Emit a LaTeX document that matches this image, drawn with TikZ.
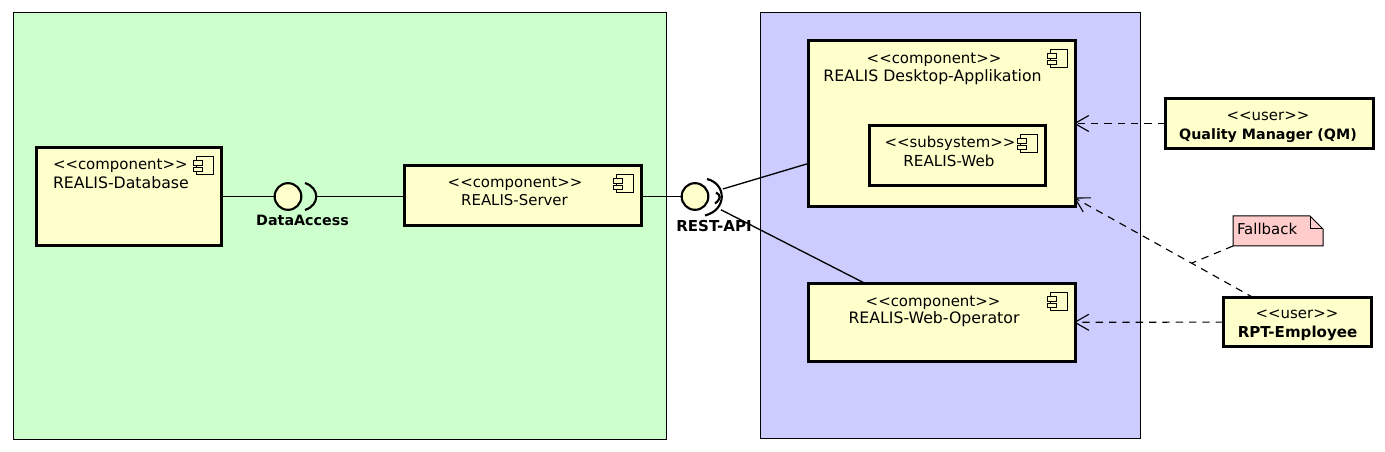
\documentclass[tikz,border=0pt]{standalone}
\usepackage{fontspec}
\setmainfont{DejaVu Sans}
\usetikzlibrary{arrows.meta}
\definecolor{pgreen}{HTML}{CCFFCC}
\definecolor{pblue}{HTML}{CCCCFF}
\definecolor{pyellow}{HTML}{FFFFCC}
\definecolor{pnote}{HTML}{FFCCCC}
\tikzset{
  x=0.75pt,y=-0.75pt,
  every node/.style={inner sep=0pt,outer sep=0pt},
  pkg/.style={draw=black,line width=0.75pt,anchor=north west},
  comp/.style={draw=black,fill=pyellow,line width=2.25pt,anchor=north west},
  txt/.style={font=\fontsize{11.2pt}{13pt}\selectfont,text=black},
  txtwide/.style={font=\fontsize{11.8pt}{13pt}\selectfont,text=black},
  txtmid/.style={font=\fontsize{11.4pt}{13pt}\selectfont,text=black},
  btxt/.style={font=\fontsize{11.3pt}{13pt}\selectfont\bfseries,text=black},
  btxtnarrow/.style={font=\fontsize{10.7pt}{13pt}\selectfont\bfseries,text=black},
  ball/.style={circle,draw=black,fill=pyellow,line width=1.6pt,minimum size=20pt},
  wire/.style={draw=black,line width=1pt},
  sockarc/.style={draw=black,line width=1.6pt},
  dep/.style={draw=black,line width=0.85pt,dash pattern=on 5.5pt off 4.5pt,shorten >=-1pt,-{Straight Barb[length=10.5pt,width=12pt,line width=0.85pt]}},
  notewire/.style={draw=black,line width=0.85pt,dash pattern=on 5.5pt off 4.5pt},
  halo/.style={circle,minimum size=42pt},
  icon/.pic={
    \draw[black,line width=0.7pt,fill=pyellow] (-25,8) rectangle (-8,26);
    \draw[black,line width=0.7pt,fill=pyellow] (-27.5,12.5) rectangle (-18.5,17);
    \draw[black,line width=0.7pt,fill=pyellow] (-27.5,19) rectangle (-18.5,23.5);
  }
}
\begin{document}
\begin{tikzpicture}
\useasboundingbox (0,0) rectangle (1385,452);
\node[pkg,fill=pgreen,minimum width=489.75pt,minimum height=319.5pt] (green) at (13,13) {};
\node[pkg,fill=pblue,minimum width=285pt,minimum height=318.75pt] (blue) at (760,13) {};
% interfaces (invisible halo gives the connector start round the socket)
\node[ball] (c1) at (288,196.5) {};
\node[ball] (c2) at (695,196.5) {};
\node[halo] (sock) at (696,197) {};
% components
\node[comp,minimum width=138.75pt,minimum height=73.5pt] (db) at (36,148) {};
\node[comp,minimum width=177.75pt,minimum height=45pt] (server) at (404,166) {};
\node[comp,minimum width=200.25pt,minimum height=124.5pt] (desktop) at (808,41) {};
\node[comp,minimum width=132pt,minimum height=45pt] (web) at (869,126) {};
\node[comp,minimum width=200.25pt,minimum height=57.75pt] (webop) at (808,284) {};
\node[comp,minimum width=156pt,minimum height=37.5pt] (qm) at (1165,98.5) {};
\node[comp,minimum width=111pt,minimum height=36pt] (rpt) at (1223,298) {};
\pic at (db.north east) {icon};
\pic at (server.north east) {icon};
\pic at (desktop.north east) {icon};
\pic at (web.north east) {icon};
\pic at (webop.north east) {icon};
% note
\coordinate (nsw) at (1233,246);
\coordinate (njoin) at (1192,263);
\draw[black,fill=pnote,line width=0.75pt] (1233,216) -- (1310,216) -- (1323,229) -- (1323,246) -- (1233,246) -- cycle;
\draw[black,line width=0.75pt] (1310,216) -- (1310,229) -- (1323,229);
% connectors
\draw[wire] (db.east |- c1.west) -- (c1.west);
\draw[sockarc] (305,183) .. controls (320,188) and (320,205) .. (305,210);
\coordinate (s1) at (316,196.5);
\draw[wire] (s1) -- (server.west |- s1);
\draw[wire] (server.east |- c2.west) -- (c2.west);
\draw[sockarc] (707,179) .. controls (727,184) and (727,210) .. (705,215.5);
\draw[sockarc] (716,192.5) .. controls (721,195) and (721,199) .. (715,203.5);
\draw[wire] (sock) -- (desktop);
\draw[wire] (sock) -- (webop);
\draw[dep] (qm.west) -- (desktop.east |- qm.west);
\draw[dep] (rpt) -- (desktop);
\draw[dep] (rpt) -- (webop);
\draw[notewire] (nsw) -- (njoin);
% texts
\node[txt,anchor=base west] (t1) at (53,170) {<{}<component>{}>};
\node[txtwide,anchor=base west] (t2) at (53,189) {REALIS-Database};
\node[txt,anchor=base] (t3) at (515,188) {<{}<component>{}>};
\node[txt,anchor=base] (t4) at (514.5,206) {REALIS-Server};
\node[txt,anchor=base] (t5) at (934,64) {<{}<component>{}>};
\node[txtwide,anchor=base] (t6) at (932.5,82) {REALIS Desktop-Applikation};
\node[txt,anchor=base] (t7) at (950,148) {<{}<subsystem>{}>};
\node[txtmid,anchor=base] (t8) at (949,167) {REALIS-Web};
\node[txt,anchor=base] (t9) at (933,306) {<{}<component>{}>};
\node[txtwide,anchor=base] (t10) at (934,324) {REALIS-Web-Operator};
\node[txt,anchor=base] (t11) at (1268,121) {<{}<user>{}>};
\node[btxtnarrow,anchor=base] (t12) at (1268,140) {Quality Manager (QM)};
\node[txt,anchor=base] (t13) at (1297,319) {<{}<user>{}>};
\node[btxt,anchor=base] (t14) at (1297.5,338) {RPT-Employee};
\node[btxtnarrow,anchor=base] (t15) at (302.5,226) {DataAccess};
\node[btxt,anchor=base] (t16) at (714,232) {REST-API};
\node[txt,anchor=base west] (t17) at (1237,235) {Fallback};
\end{tikzpicture}
\end{document}
